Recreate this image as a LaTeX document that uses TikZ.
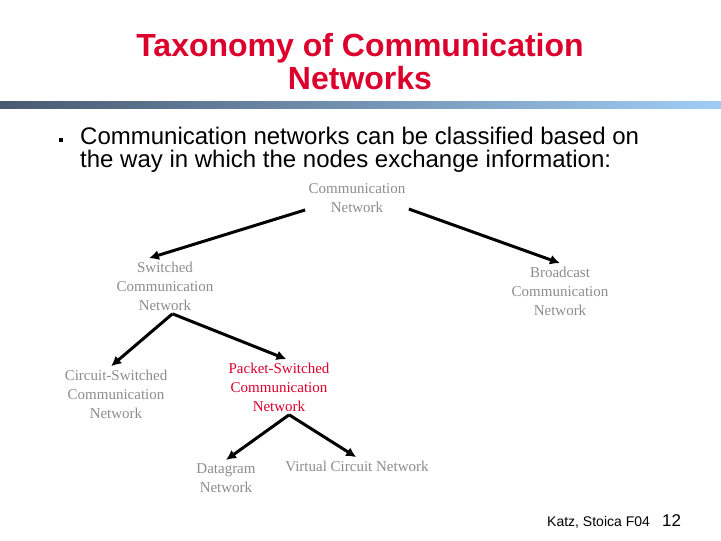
\documentclass[tikz,border=0pt]{standalone}
\usepackage{fontspec}
\setmainfont{Liberation Serif}
\setsansfont{Liberation Sans}
\usetikzlibrary{positioning,arrows.meta}
\definecolor{titlered}{RGB}{220,0,45}
\definecolor{netgray}{RGB}{140,140,140}
\definecolor{bardark}{RGB}{72,90,112}
\definecolor{barlight}{RGB}{160,205,245}
\tikzstyle{net} = [align=center,text=netgray,font=\fontsize{15}{19}\selectfont]
\tikzstyle{hot} = [net,text=titlered]
\tikzstyle{arrow} = [->,>={Latex[length=10pt,width=10pt]},line width=3pt]

\begin{document}
\begin{tikzpicture}[x=1pt,y=1pt,node distance=90pt]
    \useasboundingbox (0,0) rectangle (721,541);

    % Title
    \node[anchor=north,inner sep=0,align=center,text=titlered,font=\sffamily\bfseries\fontsize{32}{33}\selectfont] (title) at (360,508) {Taxonomy of Communication\\Networks};
    \shade[left color=bardark,right color=barlight] (0,432) rectangle (721,439);

    % Bullet text
    \node[fill,minimum size=4pt,inner sep=0] (dot) at (61,401) {};
    \node[anchor=north west,inner sep=0,align=left,font=\sffamily\fontsize{24}{23}\selectfont] (intro) at (80,414) {Communication networks can be classified based on\\the way in which the nodes exchange information:};

    % Tree
    \node[net] (root) at (357,343) {Communication\\Network};
    \node[net,below of=root,xshift=-192pt,yshift=2pt] (switched) {Switched\\Communication\\Network};
    \node[net,below of=root,xshift=203pt,yshift=-3pt] (broadcast) {Broadcast\\Communication\\Network};
    \node[net,below of=switched,xshift=-49pt,yshift=-18pt] (circuit) {Circuit-Switched\\Communication\\Network};
    \node[hot,below of=switched,xshift=114pt,yshift=-11pt] (packet) {Packet-Switched\\Communication\\Network};
    \node[net,below of=packet,xshift=-53pt,yshift=-1pt] (datagram) {Datagram\\Network};
    \node[net,below of=packet,xshift=78pt,yshift=11pt] (virtual) {Virtual Circuit Network};

    % arrows
    \draw[arrow] (root.193) -- (switched.120);
    \draw[arrow] (root.348) -- (broadcast.north);
    \draw[arrow] (switched.-75) -- (circuit.100);
    \draw[arrow] (switched.-75) -- (packet.75);
    \draw[arrow] (packet.-70) -- (datagram.north);
    \draw[arrow] (packet.-70) -- (virtual.95);

    % Footer
    \node[anchor=base west,inner sep=0,font=\sffamily\fontsize{14}{16}\selectfont] (credit) at (547,14) {Katz, Stoica F04};
    \node[anchor=base west,inner sep=0,font=\sffamily\fontsize{17}{19}\selectfont] (page) at (662,14) {12};
\end{tikzpicture}
\end{document}
